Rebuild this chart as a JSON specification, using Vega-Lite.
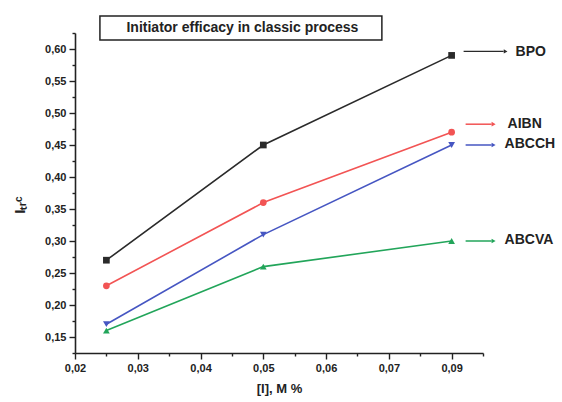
{
  "$schema": "https://vega.github.io/schema/vega-lite/v6.json",
  "width": 408,
  "height": 320,
  "autosize": {"type": "none"},
  "padding": {"left": 75, "top": 33, "right": 79, "bottom": 49},
  "background": "white",
  "config": {
    "view": {"stroke": null},
    "font": "Liberation Sans",
    "axis": {
      "grid": false,
      "domainColor": "#222",
      "domainWidth": 1.6,
      "tickColor": "#222",
      "tickWidth": 1.4,
      "labelFont": "Liberation Sans",
      "labelFontWeight": "bold",
      "labelFontSize": 11,
      "labelColor": "#222",
      "titleFont": "Liberation Sans",
      "titleFontWeight": "bold",
      "titleColor": "#222",
      "labelOverlap": false,
      "labelFlush": false
    }
  },
  "data": {
    "values": [
      {"series": "BPO", "x": 0.025, "y": 0.27},
      {"series": "BPO", "x": 0.05, "y": 0.45},
      {"series": "BPO", "x": 0.08, "y": 0.59},
      {"series": "AIBN", "x": 0.025, "y": 0.23},
      {"series": "AIBN", "x": 0.05, "y": 0.36},
      {"series": "AIBN", "x": 0.08, "y": 0.47},
      {"series": "ABCCH", "x": 0.025, "y": 0.17},
      {"series": "ABCCH", "x": 0.05, "y": 0.31},
      {"series": "ABCCH", "x": 0.08, "y": 0.45},
      {"series": "ABCVA", "x": 0.025, "y": 0.16},
      {"series": "ABCVA", "x": 0.05, "y": 0.26},
      {"series": "ABCVA", "x": 0.08, "y": 0.30}
    ]
  },
  "encoding": {
    "x": {
      "field": "x",
      "type": "quantitative",
      "scale": {"domain": [0.02, 0.085], "nice": false, "zero": false},
      "axis": {
        "title": "[I], M %",
        "titleFontSize": 13,
        "titleBaseline": "middle",
        "titleY": 35,
        "values": [0.02, 0.025, 0.03, 0.035, 0.04, 0.045, 0.05, 0.055, 0.06, 0.065, 0.07, 0.075, 0.08, 0.085],
        "labelExpr": "round(datum.value*1000)%10 != 0 ? '' : (round(datum.value*100) == 8 ? '0,09' : replace(format(datum.value, '.2f'), '.', ','))",
        "tickSize": {"condition": {"test": "round(datum.value*1000)%10 != 0", "value": 3}, "value": 6},
        "labelPadding": 3
      }
    },
    "y": {
      "field": "y",
      "type": "quantitative",
      "scale": {"domain": [0.125, 0.625], "nice": false, "zero": false},
      "axis": {
        "title": null,
        "values": [0.125, 0.15, 0.175, 0.2, 0.225, 0.25, 0.275, 0.3, 0.325, 0.35, 0.375, 0.4, 0.425, 0.45, 0.475, 0.5, 0.525, 0.55, 0.575, 0.6, 0.625],
        "labelExpr": "round(datum.value*1000)%50 != 0 ? '' : replace(format(datum.value, '.2f'), '.', ',')",
        "tickSize": {"condition": {"test": "round(datum.value*1000)%50 != 0", "value": 3}, "value": 6},
        "labelPadding": 3
      }
    },
    "color": {
      "field": "series",
      "type": "nominal",
      "scale": {"domain": ["BPO", "AIBN", "ABCCH", "ABCVA"], "range": ["#2a2a2a", "#f25454", "#4656c2", "#22a55a"]},
      "legend": null
    }
  },
  "layer": [
    {
      "transform": [{"filter": "datum.series == 'BPO' && datum.x > 0.07"}],
      "mark": {"type": "rect", "fill": "white", "stroke": "#222", "strokeWidth": 1.5},
      "encoding": {
        "x": {"datum": 0.02397, "type": "quantitative"},
        "x2": {"datum": 0.06889},
        "y": {"datum": 0.6141, "type": "quantitative"},
        "y2": {"datum": 0.6516},
        "color": {"value": "white"}
      }
    },
    {
      "transform": [{"filter": "datum.series == 'BPO' && datum.x > 0.07"}],
      "mark": {"type": "text", "text": "Initiator efficacy in classic process", "fontWeight": "bold", "fontSize": 14, "align": "center", "baseline": "middle"},
      "encoding": {
        "x": {"datum": 0.04667, "type": "quantitative"},
        "y": {"datum": 0.6328, "type": "quantitative"},
        "color": {"value": "#222"}
      }
    },
    {
      "transform": [{"filter": "datum.series == 'BPO' && datum.x > 0.07"}],
      "mark": {"type": "text", "text": "Iₜᵣᶜ", "fontWeight": "bold", "fontSize": 15, "angle": 270, "align": "center", "baseline": "middle"},
      "encoding": {
        "x": {"datum": 0.01127, "type": "quantitative"},
        "y": {"datum": 0.3562, "type": "quantitative"},
        "color": {"value": "#222"}
      }
    },
    {
      "mark": {"type": "line", "strokeWidth": 1.6},
      "encoding": {"detail": {"field": "series"}}
    },
    {
      "mark": {"type": "point", "filled": true, "opacity": 1, "size": 45},
      "encoding": {
        "shape": {
          "field": "series",
          "type": "nominal",
          "scale": {"domain": ["BPO", "AIBN", "ABCCH", "ABCVA"], "range": ["square", "circle", "triangle-down", "triangle-up"]},
          "legend": null
        }
      }
    },
    {
      "transform": [{"filter": "datum.x > 0.07 && (datum.series == 'ABCCH' || datum.series == 'ABCVA')"}],
      "mark": {"type": "rule", "strokeWidth": 1.5, "xOffset": 14, "x2Offset": 40},
      "encoding": {"x2": {"field": "x"}}
    },
    {
      "transform": [{"filter": "datum.x > 0.07 && datum.series == 'BPO'"}],
      "mark": {"type": "rule", "strokeWidth": 1.2, "xOffset": 12, "x2Offset": 52, "yOffset": -4, "y2Offset": -4},
      "encoding": {"y2": {"field": "y"}, "x2": {"field": "x"}}
    },
    {
      "transform": [{"filter": "datum.x > 0.07 && datum.series == 'AIBN'"}],
      "mark": {"type": "rule", "strokeWidth": 1.5, "xOffset": 14, "x2Offset": 40, "yOffset": -8, "y2Offset": -8},
      "encoding": {"y2": {"field": "y"}, "x2": {"field": "x"}}
    },
    {
      "transform": [{"filter": "datum.x > 0.07 && (datum.series == 'ABCCH' || datum.series == 'ABCVA')"}],
      "mark": {"type": "point", "shape": "triangle-right", "filled": true, "opacity": 1, "size": 22, "xOffset": 42},
      "encoding": {}
    },
    {
      "transform": [{"filter": "datum.x > 0.07 && datum.series == 'AIBN'"}],
      "mark": {"type": "point", "shape": "triangle-right", "filled": true, "opacity": 1, "size": 22, "xOffset": 42, "yOffset": -8},
      "encoding": {}
    },
    {
      "transform": [{"filter": "datum.x > 0.07 && datum.series == 'BPO'"}],
      "mark": {"type": "point", "shape": "triangle-right", "filled": true, "opacity": 1, "size": 18, "xOffset": 54, "yOffset": -4},
      "encoding": {}
    },
    {
      "transform": [{"filter": "datum.x > 0.07 && (datum.series == 'ABCCH' || datum.series == 'ABCVA')"}],
      "mark": {"type": "text", "align": "left", "baseline": "middle", "fontWeight": "bold", "fontSize": 14, "dx": 53, "dy": -1},
      "encoding": {"text": {"field": "series"}, "color": {"value": "#222"}}
    },
    {
      "transform": [{"filter": "datum.x > 0.07 && datum.series == 'AIBN'"}],
      "mark": {"type": "text", "align": "left", "baseline": "middle", "fontWeight": "bold", "fontSize": 14, "dx": 56, "dy": -8},
      "encoding": {"text": {"field": "series"}, "color": {"value": "#222"}}
    },
    {
      "transform": [{"filter": "datum.x > 0.07 && datum.series == 'BPO'"}],
      "mark": {"type": "text", "align": "left", "baseline": "middle", "fontWeight": "bold", "fontSize": 14, "dx": 64, "dy": -3},
      "encoding": {"text": {"field": "series"}, "color": {"value": "#222"}}
    }
  ]
}
